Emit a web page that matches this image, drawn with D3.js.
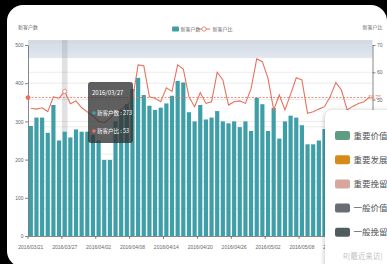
<!DOCTYPE html>
<html>
<head>
<meta charset="utf-8">
<script src="https://d3js.org/d3.v7.min.js"></script>
<style>
    html, body { margin: 0; padding: 0; background: #000; }
    svg { display: block; font-family: 'Noto Sans CJK SC', 'Noto Sans', sans-serif; }
    .axis text { fill: #666; font-size: 5px; }
    .axis path, .axis line { stroke: #555; stroke-width: 0.7px; }
    .grid { stroke: #e3e3e3; stroke-width: 0.7px; }
    .bar { fill: #3f9fa9; }
    .ratio-line { fill: none; stroke: #e7725e; stroke-width: 1.1px; }
    .avg-line { stroke: #e7725e; stroke-width: 0.8px; stroke-dasharray: 2, 1.5; }
    .name { fill: #666; font-size: 5px; }
    .tip { fill: #fff; }
    .seg-label { fill: #555; font-size: 8.5px; }
</style>
</head>
<body>
<svg id="chart" width="387" height="264"></svg>
<script>

    var dates = [
        '2016/03/21', '2016/03/22', '2016/03/23', '2016/03/24', '2016/03/25', '2016/03/26', '2016/03/27',
        '2016/03/28', '2016/03/29', '2016/03/30', '2016/03/31', '2016/04/01', '2016/04/02', '2016/04/03',
        '2016/04/04', '2016/04/05', '2016/04/06', '2016/04/07', '2016/04/08', '2016/04/09', '2016/04/10',
        '2016/04/11', '2016/04/12', '2016/04/13', '2016/04/14', '2016/04/15', '2016/04/16', '2016/04/17',
        '2016/04/18', '2016/04/19', '2016/04/20', '2016/04/21', '2016/04/22', '2016/04/23', '2016/04/24',
        '2016/04/25', '2016/04/26', '2016/04/27', '2016/04/28', '2016/04/29', '2016/04/30', '2016/05/01',
        '2016/05/02', '2016/05/03', '2016/05/04', '2016/05/05', '2016/05/06', '2016/05/07', '2016/05/08',
        '2016/05/09', '2016/05/10', '2016/05/11', '2016/05/12', '2016/05/13', '2016/05/14', '2016/05/15',
        '2016/05/16', '2016/05/17', '2016/05/18', '2016/05/19', '2016/05/20'
    ];

    // 新客户数
    var newCustomers = [
        288, 310, 310, 270, 343, 250, 273, 258, 279, 273, 273,
        265, 250, 199, 199, 300, 330, 345, 385, 414,
        369, 341, 330, 336, 347, 367, 406, 402, 324, 300,
        343, 305, 310, 327, 300, 295, 300, 285, 300, 275,
        362, 345, 275, 335, 255, 300, 315, 310, 290, 240,
        240, 250, 280, 290, 300, 285, 270, 295, 280, 300, 290
    ];

    // 新客户比
    var newRatio = [
        46.8, 46.5, 47, 45.6, 51, 50.5, 53, 48.5, 49.5, 47, 45.5,
        44, 42, 41.5, 43, 45, 46.5, 48, 50, 62.7,
        62.4, 51, 50.5, 49.2, 54.3, 53, 62.7, 61.2, 51, 47.4,
        52.6, 48.6, 49.2, 60, 57.2, 48, 49.2, 49.5, 48.6, 54,
        64.9, 63.9, 57.8, 46.2, 51.7, 46.2, 52, 58, 57.2, 45,
        45.5, 46.5, 47.4, 51, 56.2, 53.5, 46.2, 47.5, 48.6, 49.2, 51
    ];

    var leftTicks = [0, 100, 200, 300, 400, 500];
    var rightTicks = [0, 10, 20, 30, 40, 50, 60, 70];
    var ratioAvg = 50.75;
    var hoverIndex = 6;

    var segments = ['重要价值客户', '重要发展客户', '重要挽留客户', '一般价值客户', '一般挽留客户'];
    var segmentColors = ['#5f9d80', '#d68a18', '#d8a69e', '#6b6d75', '#4e5d60'];

    var svg = d3.select('#chart');
    var margin = { top: 45, right: 14.5, bottom: 28, left: 28 };
    var W = +svg.attr('width'), H = +svg.attr('height');
    var x0 = margin.left, x1 = W - margin.right;
    var y0 = H - margin.bottom, y1 = margin.top;

    // card
    svg.append('rect')
        .attr('x', 7).attr('y', 5)
        .attr('width', 380).attr('height', 262)
        .attr('rx', 16)
        .attr('fill', '#fff');

    var defs = svg.append('defs');
    var grad = defs.append('linearGradient').attr('id', 'band').attr('x1', 0).attr('y1', 0).attr('x2', 0).attr('y2', 1);
    grad.append('stop').attr('offset', 0).attr('stop-color', '#d0d8e3');
    grad.append('stop').attr('offset', 1).attr('stop-color', '#e3e8ef');
    var sh = defs.append('filter').attr('id', 'shadow').attr('x', -0.2).attr('y', -0.2).attr('width', 1.5).attr('height', 1.5);
    sh.append('feDropShadow').attr('dx', -1).attr('dy', 0).attr('stdDeviation', 2)
        .attr('flood-color', '#000').attr('flood-opacity', 0.2);

    var x = d3.scaleBand().domain(dates).range([x0, x1]).padding(0);
    var step = x.step();
    var yL = d3.scaleLinear().domain([0, 500]).range([y0, y1]);
    var yR = d3.scaleLinear().domain([0, 70]).range([y0, y1]);

    // top band
    svg.append('rect')
        .attr('x', x0).attr('y', yR(71.8))
        .attr('width', x1 - x0).attr('height', yR(65.2) - yR(71.8))
        .attr('fill', 'url(#band)');

    // grid lines
    svg.selectAll('.gl').data(leftTicks.slice(1)).enter().append('line')
        .attr('class', 'grid')
        .attr('x1', x0).attr('x2', x1)
        .attr('y1', function(d) { return yL(d); }).attr('y2', function(d) { return yL(d); });
    svg.selectAll('.gr').data(rightTicks.slice(1, -1)).enter().append('line')
        .attr('class', 'grid')
        .attr('x1', x0).attr('x2', x1)
        .attr('y1', function(d) { return yR(d); }).attr('y2', function(d) { return yR(d); });

    // axis pointer shadow
    svg.append('rect')
        .attr('x', x(dates[hoverIndex])).attr('y', yR(71.8))
        .attr('width', step).attr('height', y0 - yR(71.8))
        .attr('fill', 'rgba(140,140,150,0.26)');

    // bars
    var bw = step * 0.74;
    svg.selectAll('.bar').data(newCustomers).enter().append('rect')
        .attr('class', 'bar')
        .attr('x', function(d, i) { return x(dates[i]) + (step - bw) / 2; })
        .attr('y', function(d) { return yL(d); })
        .attr('width', bw)
        .attr('height', function(d) { return y0 - yL(d); });

    // axes
    var labelDates = dates.filter(function(d, i) { return i % 6 === 0; });
    svg.append('g').attr('class', 'axis')
        .attr('transform', 'translate(0,' + y0 + ')')
        .call(d3.axisBottom(x).tickValues(labelDates).tickSize(0).tickPadding(9))
        .selectAll('.tick line').remove();
    svg.selectAll('.xtick').data(labelDates).enter().append('line')
        .attr('stroke', '#555').attr('stroke-width', 0.7)
        .attr('x1', function(d) { return x(d); }).attr('x2', function(d) { return x(d); })
        .attr('y1', y0).attr('y2', y0 + 3);

    svg.append('g').attr('class', 'axis')
        .attr('transform', 'translate(' + x0 + ',0)')
        .call(d3.axisLeft(yL).tickValues(leftTicks).tickSize(3).tickSizeOuter(0).tickPadding(1.5));

    // right axis: labels under the legend card are hidden there, so only the visible ones get text
    var rAxis = svg.append('g').attr('class', 'axis')
        .attr('transform', 'translate(' + x1 + ',0)')
        .call(d3.axisRight(yR).tickValues(rightTicks).tickSize(3).tickSizeOuter(0).tickPadding(1.5));
    rAxis.selectAll('.tick').filter(function(d) { return d < 50; }).select('text').remove();

    svg.append('text').attr('class', 'name').attr('x', x0).attr('y', 29).attr('text-anchor', 'middle').text('新客户数');
    svg.append('text').attr('class', 'name').attr('x', x1).attr('y', 29).attr('text-anchor', 'middle').text('新客户比');

    // ratio line
    var line = d3.line()
        .x(function(d, i) { return x(dates[i]) + step / 2; })
        .y(function(d) { return yR(d); });
    svg.append('path').datum(newRatio).attr('class', 'ratio-line').attr('d', line);

    // average mark line
    svg.append('line').attr('class', 'avg-line')
        .attr('x1', x0).attr('x2', x1)
        .attr('y1', yR(ratioAvg)).attr('y2', yR(ratioAvg));
    svg.append('circle').attr('cx', x0).attr('cy', yR(ratioAvg)).attr('r', 2.4).attr('fill', '#e7725e');
    svg.append('text').attr('x', x1 - 4).attr('y', yR(ratioAvg) + 1)
        .attr('fill', '#e7725e').attr('font-size', '5px').text(ratioAvg);

    svg.append('circle')
        .attr('cx', x(dates[hoverIndex]) + step / 2).attr('cy', yR(newRatio[hoverIndex]))
        .attr('r', 2).attr('fill', '#fff').attr('stroke', '#e7725e').attr('stroke-width', 0.8);

    // legend
    svg.append('rect').attr('x', 172).attr('y', 26.5).attr('width', 7).attr('height', 5).attr('rx', 1).attr('fill', '#3f9fa9');
    svg.append('text').attr('class', 'name').attr('x', 180.5).attr('y', 31).text('新客户数');
    svg.append('line').attr('x1', 198).attr('x2', 210).attr('y1', 29).attr('y2', 29)
        .attr('stroke', '#e7725e').attr('stroke-width', 1);
    svg.append('circle').attr('cx', 204).attr('cy', 29).attr('r', 2.2)
        .attr('fill', '#fff').attr('stroke', '#e7725e').attr('stroke-width', 0.8);
    svg.append('text').attr('class', 'name').attr('x', 212.5).attr('y', 31).text('新客户比');

    // tooltip
    var tip = svg.append('g').attr('transform', 'translate(88,82)');
    tip.append('rect').attr('width', 45).attr('height', 61).attr('rx', 3).attr('fill', 'rgba(50,50,50,0.78)');
    tip.append('text').attr('class', 'tip').attr('x', 4).attr('y', 13).attr('font-size', '6px').text(dates[hoverIndex]);
    tip.append('circle').attr('cx', 6).attr('cy', 31).attr('r', 1.8).attr('fill', '#3f9fa9');
    tip.append('text').attr('class', 'tip').attr('x', 9).attr('y', 33).attr('font-size', '5.5px')
        .text('新客户数 : ' + newCustomers[hoverIndex]);
    tip.append('circle').attr('cx', 6).attr('cy', 49).attr('r', 1.8).attr('fill', '#e7725e');
    tip.append('text').attr('class', 'tip').attr('x', 9).attr('y', 51).attr('font-size', '5.5px')
        .text('新客户比 : ' + newRatio[hoverIndex]);

    // segment legend card, running off the right edge of the screenshot
    var box = svg.append('g');
    box.append('rect').attr('x', 325).attr('y', 110).attr('width', 90).attr('height', 170)
        .attr('rx', 8).attr('fill', '#fff').attr('filter', 'url(#shadow)');
    var item = box.selectAll('.seg').data(segments).enter().append('g')
        .attr('transform', function(d, i) { return 'translate(335,' + (135.5 + i * 24.2) + ')'; });
    item.append('rect').attr('x', 0).attr('y', -4.5).attr('width', 15).attr('height', 9).attr('rx', 2)
        .attr('fill', function(d, i) { return segmentColors[i]; });
    item.append('text').attr('class', 'seg-label').attr('x', 18.5).attr('y', 3).text(function(d) { return d; });
    box.append('text').attr('x', 343).attr('y', 259).attr('fill', '#c4c4c4').attr('font-size', '7.5px').text('R(最近来访)');

</script>
</body>
</html>
